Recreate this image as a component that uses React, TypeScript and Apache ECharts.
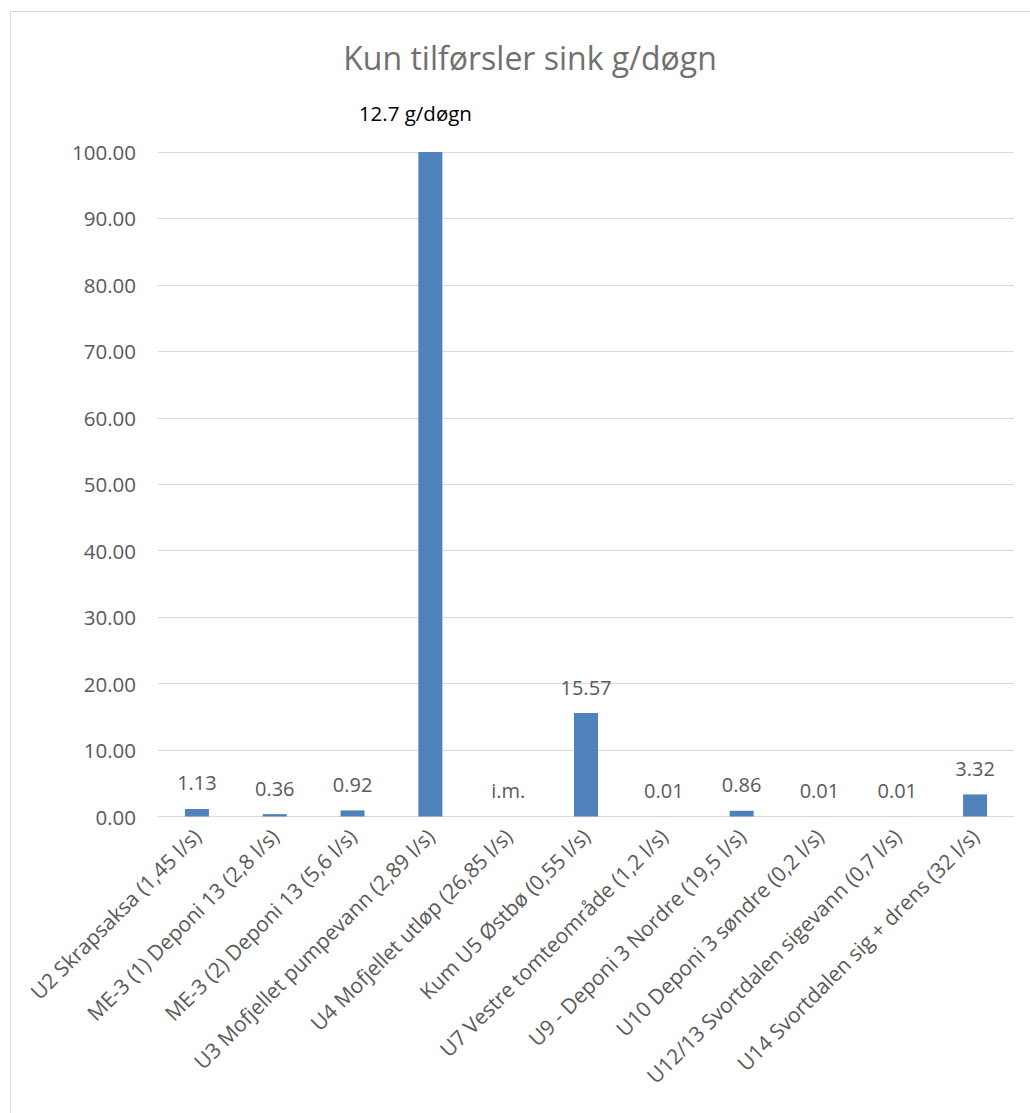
import React, { useEffect, useRef } from "react";
import * as echarts from "echarts";

const title = "Kun tilførsler sink g/døgn";
const categories = [
  "U2 Skrapsaksa (1,45 l/s)",
  "ME-3 (1) Deponi 13 (2,8 l/s)",
  "ME-3 (2) Deponi 13 (5,6 l/s)",
  "U3 Mofjellet pumpevann (2,89 l/s)",
  "U4 Mofjellet utløp (26,85 l/s)",
  "Kum U5 Østbø (0,55 l/s)",
  "U7 Vestre tomteområde (1,2 l/s)",
  "U9 - Deponi 3 Nordre (19,5 l/s)",
  "U10 Deponi 3 søndre (0,2 l/s)",
  "U12/13 Svortdalen sigevann (0,7 l/s)",
  "U14 Svortdalen sig + drens (32 l/s)",
];
const values: (number | null)[] = [1.13, 0.36, 0.92, 100, null, 15.57, 0.01, 0.86, 0.01, 0.01, 3.32];
const annotatedIndex = 3;
const annotationText = "12.7 g/døgn";
const missingText = "i.m.";
const yTicks = { min: 0, max: 100, interval: 10 };

const FONT = "'Open Sans', 'Noto Sans', sans-serif";
const GREY = "#595959";

export default function App() {
  const ref = useRef<HTMLDivElement>(null);
  useEffect(() => {
    document.body.style.margin = "0";
    if (!ref.current) return;
    const chart = echarts.init(ref.current, null, { renderer: "svg" });
    const data = values.map((v, i) => {
      if (v === null) {
        return { value: 0, label: { formatter: missingText } };
      }
      if (i === annotatedIndex) {
        return {
          value: v,
          label: {
            formatter: annotationText,
            color: "#000000",
            fontSize: 20.5,
            distance: 29,
            offset: [-15, 0],
          },
        };
      }
      return { value: v, label: { formatter: v.toFixed(2) } };
    });
    chart.setOption({
      animation: false,
      backgroundColor: "#ffffff",
      textStyle: { fontFamily: FONT },
      title: {
        text: title,
        left: 525,
        textAlign: "center",
        top: 36,
        textStyle: { fontFamily: FONT, fontSize: 32, fontWeight: "normal", color: "#707070" },
      },
      graphic: [
        {
          type: "rect",
          shape: { x: 10.5, y: 11.5, width: 1100, height: 1200 },
          style: { fill: "none", stroke: "#d9d9d9", lineWidth: 1 },
          silent: true,
        },
      ],
      grid: { left: 158, right: 16, top: 152, bottom: 296.5, containLabel: false },
      xAxis: {
        type: "category",
        data: categories,
        axisLine: { show: true, lineStyle: { color: "#d9d9d9", width: 1 } },
        axisTick: { show: false },
        axisLabel: {
          rotate: 45,
          interval: 0,
          margin: 16,
          fontSize: 21,
          color: GREY,
          fontFamily: FONT,
        },
      },
      yAxis: {
        type: "value",
        min: yTicks.min,
        max: yTicks.max,
        interval: yTicks.interval,
        axisLine: { show: false },
        axisTick: { show: false },
        splitLine: { lineStyle: { color: "#d9d9d9", width: 1 } },
        axisLabel: {
          formatter: (v: number) => v.toFixed(2),
          fontSize: 20.5,
          color: GREY,
          margin: 22,
          fontFamily: FONT,
        },
      },
      series: [
        {
          type: "bar",
          data,
          barWidth: 24,
          itemStyle: { color: "#4F81BD" },
          label: {
            show: true,
            position: "top",
            distance: 16,
            fontSize: 20,
            color: GREY,
            fontFamily: FONT,
          },
        },
      ],
    });
    return () => chart.dispose();
  }, []);
  return <div ref={ref} style={{ width: 1030, height: 1113 }} />;
}
